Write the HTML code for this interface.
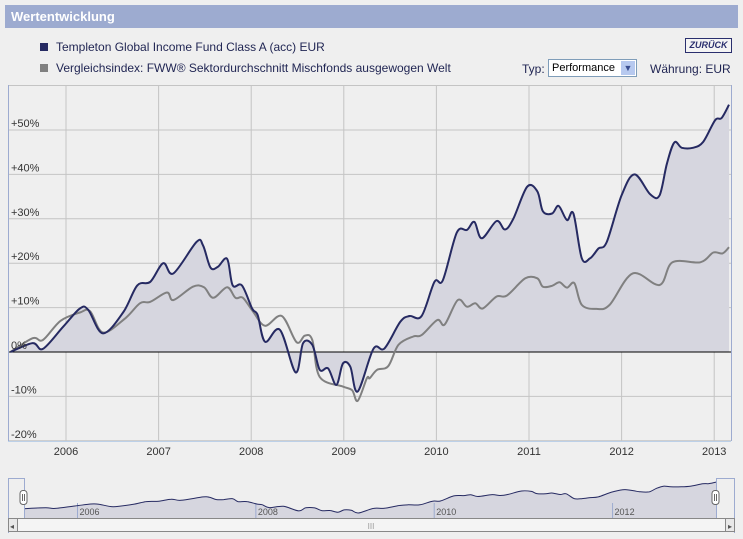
<!DOCTYPE html>
<html><head><meta charset="utf-8">
<style>
body{margin:0;width:743px;height:539px;background:#efefef;font-family:"Liberation Sans",sans-serif;overflow:hidden;position:relative}
.abs{position:absolute}
#hdr{left:5px;top:5px;width:733px;height:23px;background:#9dabd0;color:#fff;font-weight:bold;font-size:13px;line-height:23px;text-indent:6px}
.leg{font-size:12px;color:#1f2452;}
.sq{width:8px;height:8px}
</style></head><body>
<div id="hdr" class="abs">Wertentwicklung</div>
<div class="abs sq" style="left:40px;top:43px;background:#262a62"></div>
<div class="abs leg" style="left:56px;top:40px">Templeton Global Income Fund Class A (acc) EUR</div>
<div class="abs sq" style="left:40px;top:64px;background:#808080"></div>
<div class="abs leg" style="left:56px;top:61px">Vergleichsindex: FWW® Sektordurchschnitt Mischfonds ausgewogen Welt</div>
<div class="abs" style="left:685px;top:38px;width:45px;height:13px;border:1px solid #2a2f6e;background:#f4f4f4;color:#2a2f6e;font-size:9px;font-weight:bold;font-style:italic;text-align:center;line-height:13px">ZURÜCK</div>
<div class="abs leg" style="left:522px;top:62px">Typ:</div>
<div class="abs" style="left:548px;top:59px;width:87px;height:16px;border:1px solid #7f9db9;background:#fff;font-size:11px;line-height:16px;color:#000"><span style="padding-left:3px">Performance</span><div class="abs" style="right:1px;top:1px;width:14px;height:14px;background:#b7c9ef;color:#3a4d8f;font-size:9px;text-align:center;line-height:14px">▼</div></div>
<div class="abs leg" style="left:650px;top:62px">Währung: EUR</div>

<svg class="abs" style="left:0;top:0" width="743" height="539">
<g id="grid"></g>
<path id="fill" fill="#d6d6df"></path>
<line x1="8" x2="731" y1="352" y2="352" stroke="#000" stroke-width="1"></line>
<path id="gray" fill="none" stroke="#808080" stroke-width="2"></path>
<path id="blue" fill="none" stroke="#262a62" stroke-width="2"></path>
<g id="labels" font-size="11" fill="#333"></g>
<line x1="8.5" x2="8.5" y1="85" y2="441" stroke="#9dabd0"></line>
<line x1="731.5" x2="731.5" y1="85" y2="441" stroke="#9dabd0"></line>
<line x1="8" x2="731" y1="441.5" y2="441.5" stroke="#bcd0e8"></line>
<g id="nav"></g>
</svg>
<script>
const blueDates=[2005.40,2005.64,2005.75,2005.97,2006.15,2006.24,2006.40,2006.62,2006.77,2006.91,2007.05,2007.16,2007.41,2007.48,2007.56,2007.64,2007.74,2007.80,2007.90,2008.01,2008.07,2008.15,2008.31,2008.48,2008.56,2008.66,2008.74,2008.83,2008.92,2008.99,2009.07,2009.15,2009.32,2009.44,2009.61,2009.71,2009.84,2009.98,2010.07,2010.22,2010.33,2010.41,2010.49,2010.65,2010.74,2010.83,2010.98,2011.09,2011.15,2011.25,2011.32,2011.41,2011.48,2011.57,2011.66,2011.75,2011.84,2012.00,2012.14,2012.31,2012.41,2012.49,2012.57,2012.65,2012.77,2012.88,2013.01,2013.08,2013.16];
const blueValues=[0,2,0.7,5.7,9.8,9.5,4.2,9,15,15.8,20,17.7,24.8,24,19,19.2,21,15,15,9.8,8.3,2.3,5,-4.6,2,1.6,-4,-3.7,-7.4,-2.6,-3.3,-8.9,0.7,0.8,6.8,8.1,8.1,15.8,16.2,26.9,27.5,29.3,25.6,29.5,27.6,30,37.2,36.2,31.7,31.2,32.9,29.7,31.2,21.1,21.1,23.3,24.8,35.3,40,35.5,35.3,42.5,47.2,46,46,47.3,52.2,52.7,55.7];
const grayDates=[2005.40,2005.64,2005.75,2005.94,2006.15,2006.26,2006.40,2006.64,2006.80,2006.91,2007.09,2007.16,2007.37,2007.49,2007.59,2007.74,2007.83,2007.91,2008.02,2008.15,2008.33,2008.49,2008.58,2008.66,2008.74,2008.99,2009.09,2009.15,2009.25,2009.28,2009.36,2009.48,2009.59,2009.75,2009.84,2010.01,2010.09,2010.23,2010.33,2010.42,2010.50,2010.65,2010.76,2010.96,2011.09,2011.15,2011.25,2011.33,2011.41,2011.49,2011.57,2011.73,2011.87,2012.12,2012.41,2012.55,2012.85,2012.99,2013.09,2013.16];
const grayValues=[0,3.1,2.7,7,8.9,9.2,4.4,7.6,11,11.3,13.4,11.7,14.7,14.6,12.2,14.6,12.2,12.2,9.1,5.9,8.1,2.2,3.7,2.7,-5.6,-7.8,-8.6,-11,-5.9,-5.9,-4,-3.2,1.6,3.5,3.8,7.2,6.2,11.7,10.2,11,9.8,12.5,12.7,16.6,16.6,14.7,14.9,15.7,14.5,15.5,10.6,9.7,10.6,17.7,15.1,20.2,20.2,22.4,22.2,23.6];
const yTicks=[50,40,30,20,10,0,-10,-20];
const yTickLabels=["+50%","+40%","+30%","+20%","+10%","0%","-10%","-20%"];
const xTicks=[2006,2007,2008,2009,2010,2011,2012,2013];
const navTicks=[2006,2008,2010,2012];

const X=t=>66+(t-2006)*92.6;
const Y=v=>352-v*4.44;
const NX=t=>24+(t-2005.40)/(2013.16-2005.40)*692;
const NY=v=>513-(v+9)/65*31;
const NS="http://www.w3.org/2000/svg";
function mk(tag,attrs,parent){const e=document.createElementNS(NS,tag);for(const k in attrs)e.setAttribute(k,attrs[k]);parent.appendChild(e);return e;}
function smooth(pts){let d="M"+pts[0][0].toFixed(1)+","+pts[0][1].toFixed(1);
 for(let i=0;i<pts.length-1;i++){const p0=pts[i-1]||pts[i],p1=pts[i],p2=pts[i+1],p3=pts[i+2]||p2;
  const c1=[p1[0]+(p2[0]-p0[0])/6,p1[1]+(p2[1]-p0[1])/6],c2=[p2[0]-(p3[0]-p1[0])/6,p2[1]-(p3[1]-p1[1])/6];
  d+=" C"+c1[0].toFixed(1)+","+c1[1].toFixed(1)+" "+c2[0].toFixed(1)+","+c2[1].toFixed(1)+" "+p2[0].toFixed(1)+","+p2[1].toFixed(1);}
 return d;}
const grid=document.getElementById('grid'),labels=document.getElementById('labels');
yTicks.forEach((v,i)=>{
 const l=mk('line',{x1:8,x2:731,y1:Y(v),y2:Y(v),stroke:'#c4c4c4'},grid);
 
 
 const t=mk('text',{x:11,y:Y(v)-3},labels);t.textContent=yTickLabels[i];
 
 
});
xTicks.forEach(yr=>{
 const l=mk('line',{x1:X(yr),x2:X(yr),y1:85,y2:441,stroke:'#c4c4c4'},grid);
 
 
 const t=mk('text',{x:X(yr),y:455,'text-anchor':'middle'},labels);t.textContent=yr;
 
 
});
mk('line',{x1:8,x2:731,y1:85.5,y2:85.5,stroke:'#c4c4c4'},grid);
const bp=blueDates.map((d,i)=>[X(d),Y(blueValues[i])]);
const gp=grayDates.map((d,i)=>[X(d),Y(grayValues[i])]);
const bd=smooth(bp);
document.getElementById('blue').setAttribute('d',bd);
document.getElementById('gray').setAttribute('d',smooth(gp));
document.getElementById('fill').setAttribute('d',bd+" L"+bp[bp.length-1][0]+","+Y(0)+" L"+bp[0][0]+","+Y(0)+" Z");
const nav=document.getElementById('nav');
const np=blueDates.map((d,i)=>[NX(d),NY(blueValues[i])]);
const nd=smooth(np);
const na=mk('path',{d:nd+" L716,518 L24,518 Z",fill:'#d6d6df'},nav);


navTicks.forEach(yr=>{
 const l=mk('line',{x1:NX(yr),x2:NX(yr),y1:503,y2:518,stroke:'#9dabd0'},nav);
 
 
 const t=mk('text',{x:NX(yr)+2,y:515,'font-size':'9',fill:'#555'},nav);t.textContent=yr;
 
 
});
const nl=mk('path',{d:nd,fill:'none',stroke:'#262a62','stroke-width':1},nav);


mk('path',{d:'M8,478.5 H24.5 V518 M735,478.5 H716.5 V518',fill:'none',stroke:'#9dabd0'},nav);
mk('path',{d:'M8.5,478 V533 M734.5,478 V533',fill:'none',stroke:'#9dabd0'},nav);
const sb=mk('rect',{x:8.5,y:518.5,width:726,height:13,fill:'#e8e8e8',stroke:'#888'},nav);


const th=mk('rect',{x:17.5,y:518.5,width:708,height:13,fill:'#f4f4f4',stroke:'#888'},nav);


const st=mk('text',{x:371,y:529,'font-size':'8',fill:'#999','text-anchor':'middle'},nav);st.textContent='III';
[[12,'◂'],[730,'▸']].forEach(([x,c])=>{const t=mk('text',{x:x,y:529,'font-size':'8',fill:'#555','text-anchor':'middle'},nav);t.textContent=c;
 
 });
[24,716].forEach(x=>{const h=mk('rect',{x:x-4,y:490.5,width:7,height:14,rx:3,fill:'#fff',stroke:'#666'},nav);
 
 
 mk('path',{d:`M${x-1.5},494 V501 M${x+0.5},494 V501`,stroke:'#666'},nav);});
</script>
</body></html>
